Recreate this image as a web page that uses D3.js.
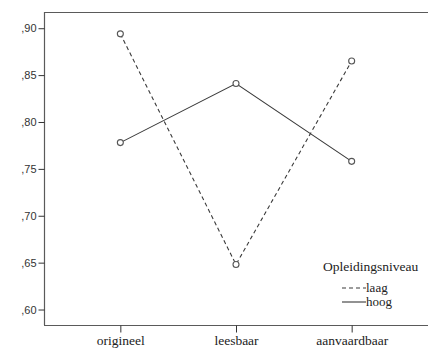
<!DOCTYPE html>
<html lang="nl">
<head>
    <meta charset="UTF-8">
    <title>Opleidingsniveau</title>
    <script src="https://cdn.jsdelivr.net/npm/d3@7"></script>
    <style>
        body { margin: 0; background: #fff; }
        svg { display: block; }
    </style>
</head>
<body>
    <div id="chart"></div>
    <script>
// data
const categories = ["origineel", "leesbaar", "aanvaardbaar"];
const laag = [0.894, 0.648, 0.865];
const hoog = [0.778, 0.841, 0.758];
const yTicks = [0.60, 0.65, 0.70, 0.75, 0.80, 0.85, 0.90];
const seriesNames = ["laag", "hoog"];

const width = 428, height = 352;
const margin = { top: 12, right: 0, bottom: 27, left: 44 };
const serif = "'Liberation Serif', 'Times New Roman', serif";
const sans = "'Liberation Sans', Arial, sans-serif";

const svg = d3.select("#chart").append("svg")
    .attr("width", width)
    .attr("height", height);

const xScale = d3.scalePoint()
    .domain(categories)
    .range([margin.left, width - margin.right])
    .padding(0.66);

const yScale = d3.scaleLinear()
    .domain([0.5835, 0.9173])
    .range([height - margin.bottom, margin.top]);

const axisColor = "#5a5a5a";

// frame: top line
svg.append("line")
    .attr("x1", margin.left).attr("x2", width)
    .attr("y1", margin.top + 0.5).attr("y2", margin.top + 0.5)
    .attr("stroke", axisColor).attr("stroke-width", 1.2);

// y axis
const yAxis = d3.axisLeft(yScale)
    .tickValues(yTicks)
    .tickSize(6)
    .tickPadding(2)
    .tickFormat(d => d3.format(".2f")(d).replace("0.", ","));

const gy = svg.append("g")
    .attr("transform", `translate(${margin.left + 0.5},0)`)
    .call(yAxis);
gy.select(".domain").attr("stroke", axisColor).attr("stroke-width", 1.2)
    .attr("d", `M0,${margin.top}V${height - margin.bottom}`);
gy.selectAll(".tick line").attr("stroke", "#333");
gy.selectAll(".tick text")
    .attr("fill", "#333")
    .style("font-family", sans)
    .style("font-size", "11px");

// x axis
const xAxis = d3.axisBottom(xScale).tickSize(7).tickPadding(3);
const gx = svg.append("g")
    .attr("transform", `translate(0,${height - margin.bottom + 0.5})`)
    .call(xAxis);
gx.select(".domain").attr("stroke", axisColor).attr("stroke-width", 1.2)
    .attr("d", `M${margin.left},0H${width}`);
gx.selectAll(".tick line").attr("stroke", "#333");
gx.selectAll(".tick text")
    .attr("fill", "#222")
    .style("font-family", serif)
    .style("font-size", "13.5px");

// lines
const line = d3.line()
    .x((d, i) => xScale(categories[i]))
    .y(d => yScale(d));

const series = [
    { name: seriesNames[0], values: laag, dash: "4,3" },
    { name: seriesNames[1], values: hoog, dash: null }
];

series.forEach(s => {
    svg.append("path")
        .datum(s.values)
        .attr("d", line)
        .attr("fill", "none")
        .attr("stroke", "#3a3a3a")
        .attr("stroke-width", 1.1)
        .attr("stroke-dasharray", s.dash);

    svg.selectAll(null)
        .data(s.values)
        .enter()
        .append("circle")
        .attr("cx", (d, i) => xScale(categories[i]))
        .attr("cy", d => yScale(d))
        .attr("r", 3)
        .attr("fill", "#fff")
        .attr("stroke", "#555")
        .attr("stroke-width", 1.1);
});

// legend
const legend = svg.append("g")
    .style("font-family", serif)
    .attr("fill", "#222");

legend.append("text")
    .attr("x", 323).attr("y", 271)
    .style("font-size", "13.5px")
    .text("Opleidingsniveau");

series.forEach((s, i) => {
    const y = 288 + i * 14;
    legend.append("line")
        .attr("x1", 342).attr("x2", 366)
        .attr("y1", y).attr("y2", y)
        .attr("stroke", "#3a3a3a")
        .attr("stroke-width", 1.1)
        .attr("stroke-dasharray", s.dash);
    legend.append("text")
        .attr("x", 366).attr("y", y + 4)
        .style("font-size", "13px")
        .text(s.name);
});
    </script>
</body>
</html>
